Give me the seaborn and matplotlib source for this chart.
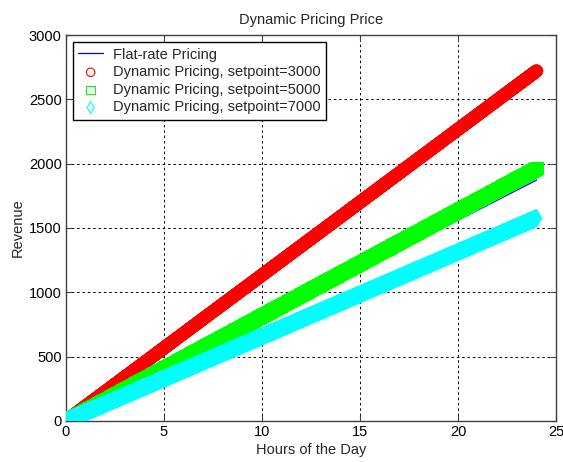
import numpy as np
import pandas as pd
import matplotlib
matplotlib.use("Agg")
import matplotlib.pyplot as plt
import seaborn as sns

# Revenue reached at the end of the day (hour 24) for each pricing scheme
day_hours = 24
flat_rate_end = 1873
setpoints = [3000, 5000, 7000]
dynamic_end = [2722, 1966, 1577]
dynamic_colors = ["#ff0000", "#00ff00", "#00ffff"]
dynamic_markers = ["o", "s", "d"]

# Sampled once per minute over the day
hours = np.arange(0, day_hours * 60 + 1) / 60.0

sns.set_theme(style="white")
plt.rcParams["font.family"] = ["Liberation Sans", "DejaVu Sans"]

fig = plt.figure(figsize=(5.63, 4.62), dpi=100)
fig.patch.set_facecolor("white")
ax = fig.add_axes([0.117, 0.089, 0.871, 0.835])

flat_df = pd.DataFrame({"hours": hours, "revenue": flat_rate_end * hours / day_hours})
sns.lineplot(data=flat_df, x="hours", y="revenue", ax=ax, color="#0000ff",
             linewidth=0.9, label="Flat-rate Pricing", zorder=2)

for sp, end, col, mk in zip(setpoints, dynamic_end, dynamic_colors, dynamic_markers):
    df = pd.DataFrame({"hours": hours, "revenue": end * hours / day_hours})
    sns.scatterplot(data=df, x="hours", y="revenue", ax=ax, marker=mk,
                    facecolors="none", edgecolor=col, linewidth=0.8, s=75,
                    label=f"Dynamic Pricing, setpoint={sp}", zorder=3)

ax.set_xlim(0, 25)
ax.set_ylim(0, 3000)
ax.set_xticks(np.arange(0, 26, 5))
ax.set_yticks(np.arange(0, 3001, 500))
ax.grid(True, color="black", linestyle=(0, (2.5, 3)), linewidth=0.7)
ax.set_axisbelow(True)

for s in ax.spines.values():
    s.set_color("#404040")
    s.set_linewidth(1.0)
ax.tick_params(direction="in", length=4, width=0.8, color="#404040",
               top=True, right=True, bottom=True, left=True,
               labelsize=10.5, labelcolor="black", pad=3)

ax.set_title("Dynamic Pricing Price", fontsize=10.5, pad=8)
ax.set_xlabel("Hours of the Day", fontsize=10.5, labelpad=3)
ax.set_ylabel("Revenue", fontsize=10.5, labelpad=3)

handles, labels = ax.get_legend_handles_labels()
leg = ax.legend(handles, labels, loc="upper left", fontsize=10.5, frameon=True,
                fancybox=False, edgecolor="black", framealpha=1,
                borderaxespad=0.5, handlelength=1.7, labelspacing=0.25,
                borderpad=0.35, handletextpad=0.7, markerscale=0.7)
leg.get_frame().set_linewidth(1.0)
leg.get_lines()[0].set_color("#0000ff") if leg.get_lines() else None

fig.savefig("out.png", dpi=100, facecolor="white")
